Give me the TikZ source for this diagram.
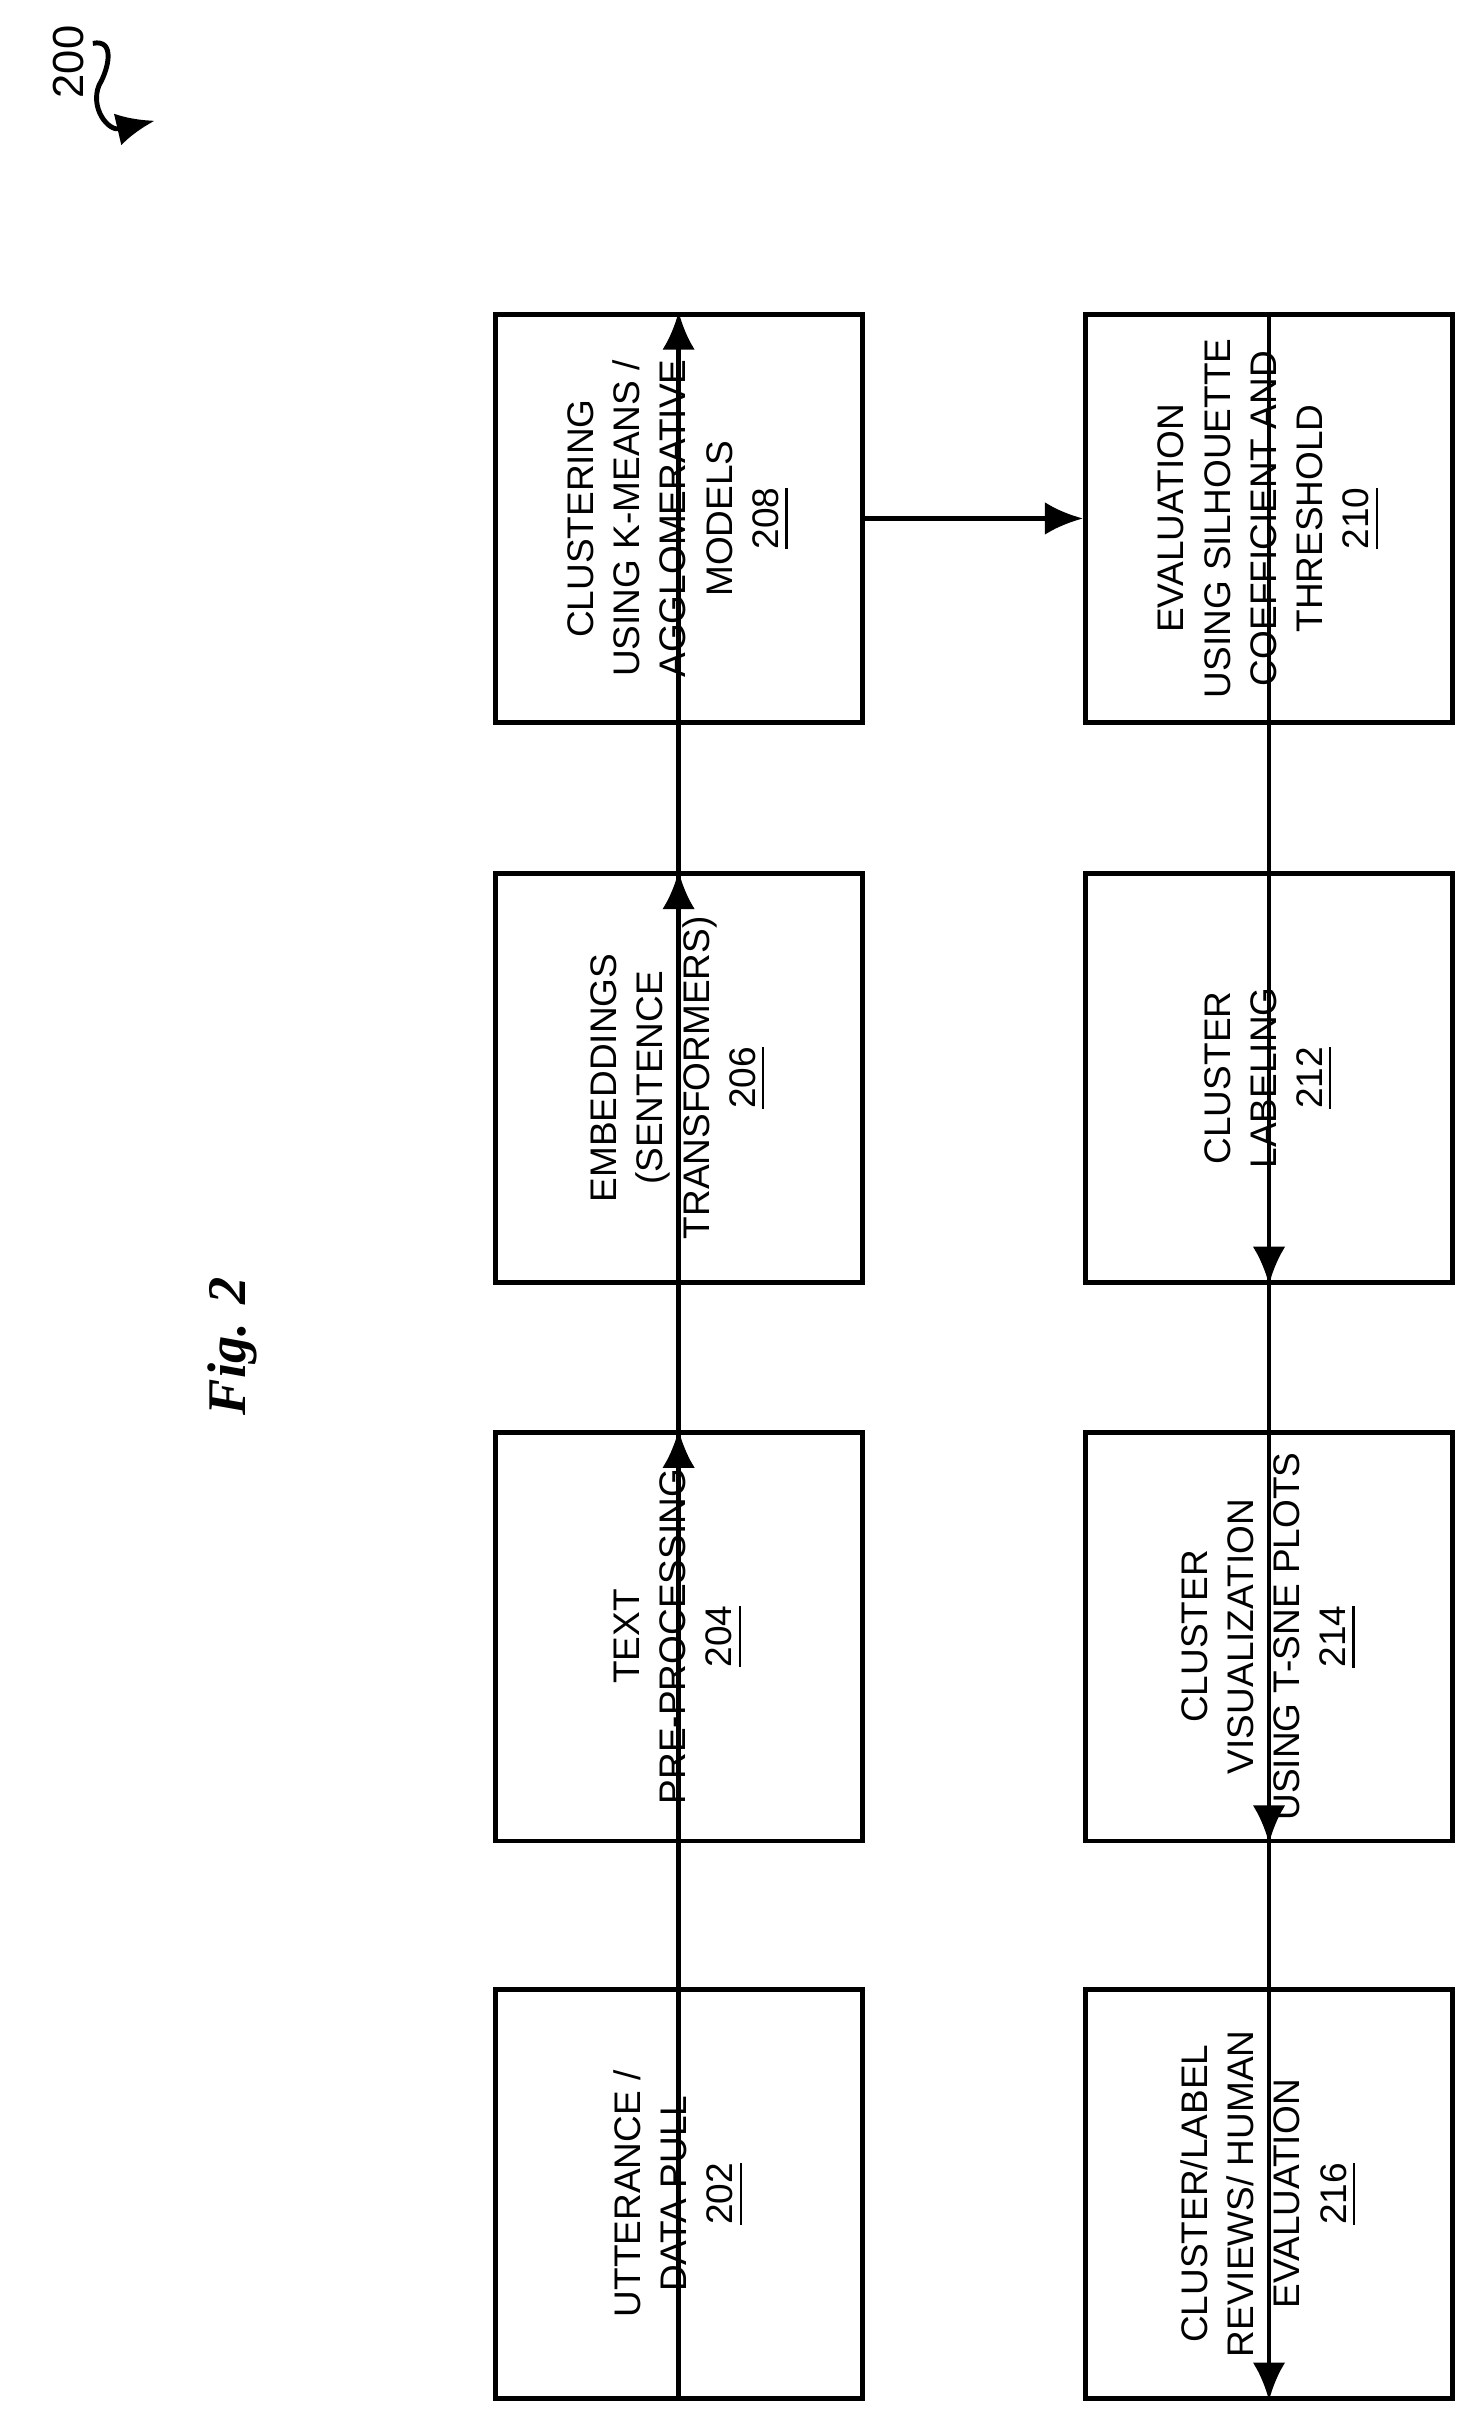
\documentclass[tikz,border=0pt]{standalone}
\usepackage{fontspec}
\setmainfont{Liberation Sans}
\newfontfamily\figfont{Liberation Serif}
\usetikzlibrary{arrows.meta,positioning}
\tikzset{
  stage/.style={draw, line width=0.9pt, rotate=90, minimum width=2.64cm,
    minimum height=2.37cm, align=center, inner sep=0pt,
    font=\fontsize{6.8}{8.5}\selectfont},
  flow/.style={-{Latex[length=7pt,width=6pt]}, line width=0.9pt}
}
\begin{document}
\begin{tikzpicture}[x=0.01cm,y=-0.01cm]
 \useasboundingbox (0,0) rectangle (950,1565);
 % left column, bottom to top
 \node [stage] (n202) at (438.5,1417.5) {UTTERANCE /\\DATA PULL\\\underline{202}};
 \node [stage] (n204) at (438.5,1057.5) {TEXT\\PRE-PROCESSING\\\underline{204}};
 \node [stage] (n206) at (438.5,696.5) {EMBEDDINGS\\(SENTENCE\\TRANSFORMERS)\\\underline{206}};
 \node [stage] (n208) at (438.5,335) {CLUSTERING\\USING K-MEANS /\\AGGLOMERATIVE\\MODELS\\\underline{208}};
 % right column, top to bottom
 \node [stage] (n210) at (820,335) {EVALUATION\\USING SILHOUETTE\\COEFFICIENT AND\\THRESHOLD\\\underline{210}};
 \node [stage] (n212) at (820,696.5) {CLUSTER\\LABELING\\\underline{212}};
 \node [stage] (n214) at (820,1057.5) {CLUSTER\\VISUALIZATION\\USING T-SNE PLOTS\\\underline{214}};
 \node [stage] (n216) at (820,1417.5) {CLUSTER/LABEL\\REVIEWS/ HUMAN\\EVALUATION\\\underline{216}};
 %
 \draw [flow] (n202.west) -- (n204.east);
 \draw [flow] (n204.west) -- (n206.east);
 \draw [flow] (n206.west) -- (n208.east);
 \draw [flow] (n208.south) -- (n210.north);
 \draw [flow] (n210.east) -- (n212.west);
 \draw [flow] (n212.east) -- (n214.west);
 \draw [flow] (n214.east) -- (n216.west);
 %
 \node [rotate=90, font=\fontsize{8}{9}\selectfont] (lbl) at (44,40) {200};
 \coordinate (tip) at (100,78);
 \draw [-{Latex[length=7pt,width=6pt]}, line width=0.9pt]
   (60,28) .. controls (75,25) and (70,45) .. (64,55)
   .. controls (58,70) and (70,85) .. (tip);
 \node [rotate=90, font=\figfont\bfseries\itshape\fontsize{10}{12}\selectfont] (fig) at (150,870) {Fig. 2};
\end{tikzpicture}
\end{document}
